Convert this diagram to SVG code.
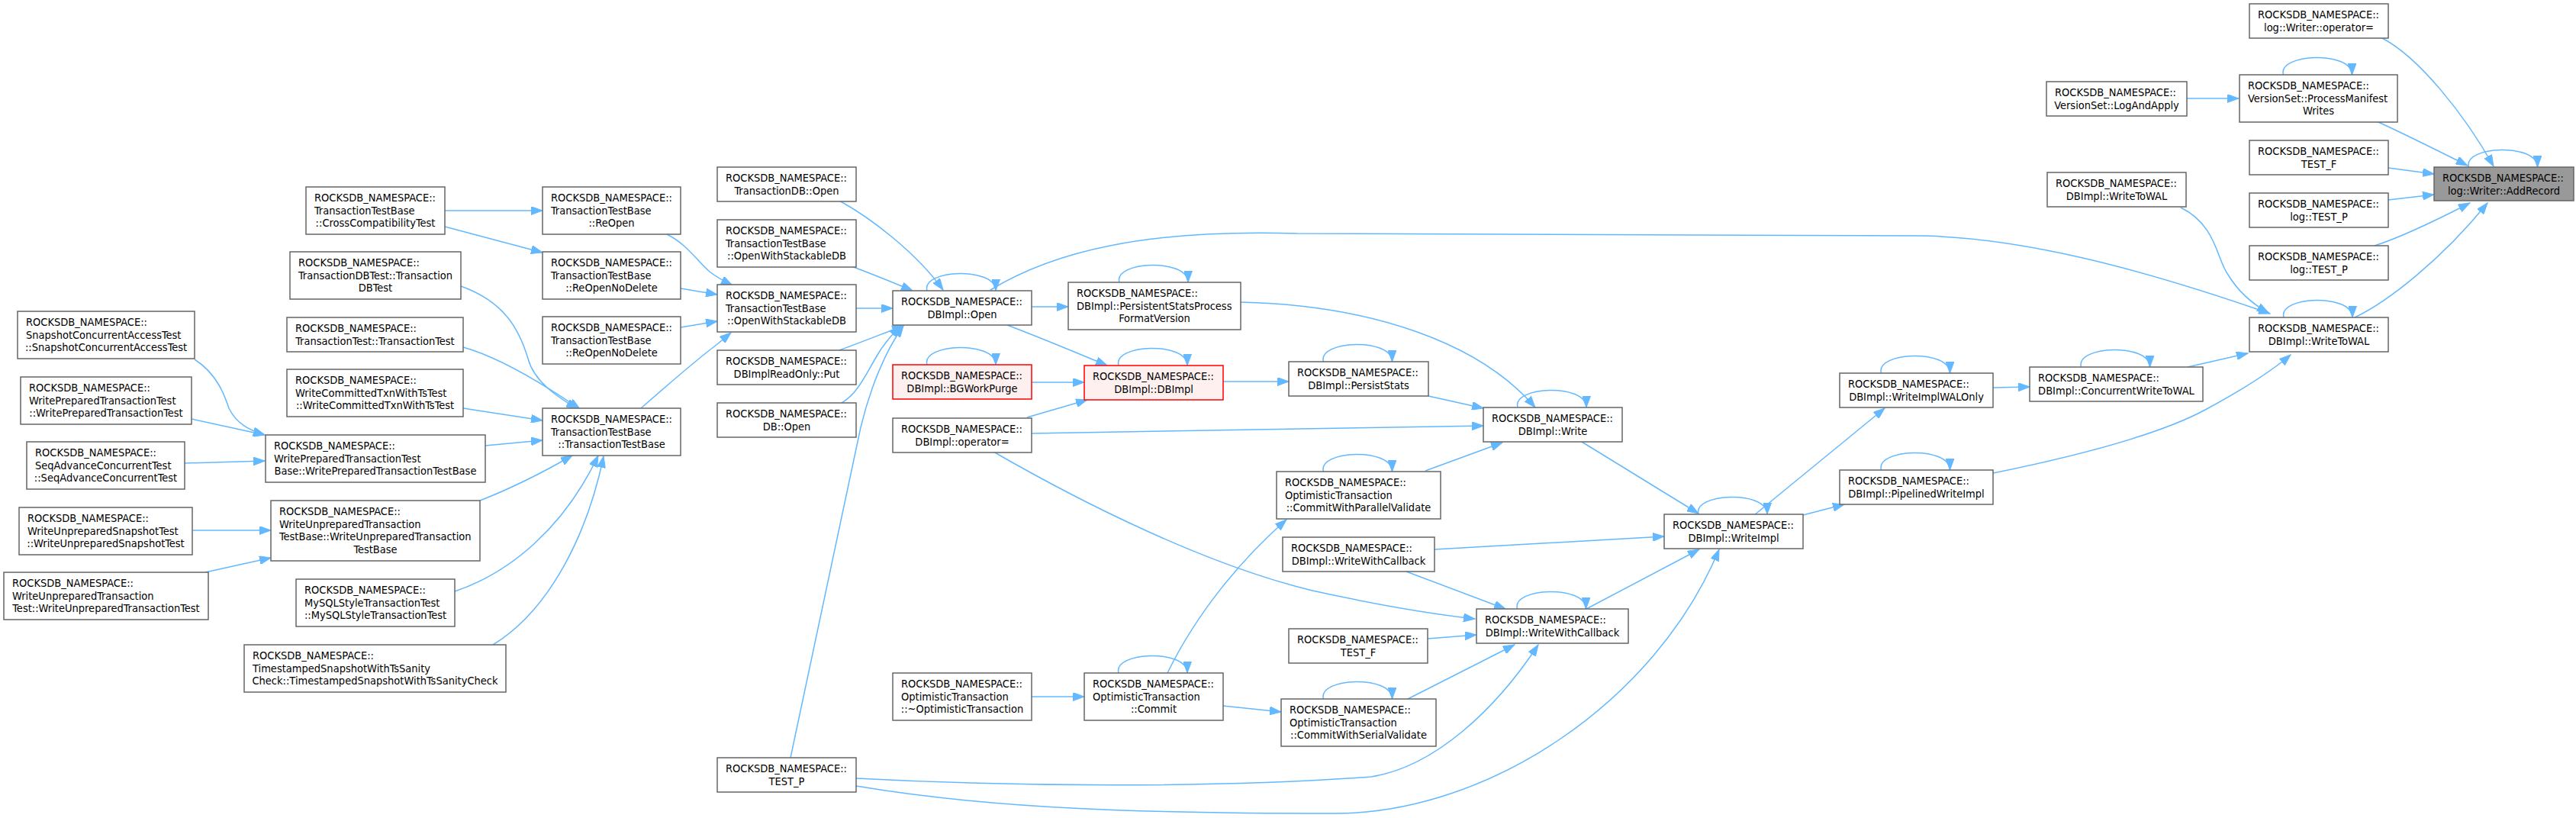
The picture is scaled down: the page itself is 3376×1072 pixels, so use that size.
<svg xmlns="http://www.w3.org/2000/svg" width="3376" height="1072" viewBox="0 0 3376 1072">
<defs>
<marker id="a" markerWidth="16" markerHeight="11" refX="15" refY="5.5" orient="auto" markerUnits="userSpaceOnUse"><path d="M0,0 L15,5.5 L0,11 z" fill="#63b8ff" stroke="#63b8ff" stroke-width="1"/></marker>
<style>
rect{fill:#ffffff;stroke:#666666;stroke-width:1.5}
.red rect{fill:#fff0f0;stroke:#ff0000}
.root rect{fill:#999999}
text{font-family:"DejaVu Sans Condensed","DejaVu Sans",sans-serif;font-stretch:condensed;font-size:14.5px;fill:#000000}
text.c{text-anchor:middle}
#edges path{fill:none;stroke:#63b8ff;stroke-width:1.5;marker-end:url(#a)}
</style>
</defs>
<rect x="0" y="0" width="3376" height="1072" style="fill:#ffffff;stroke:none"/>
<g id="edges">
<path d="M3122,50 C3170,75 3230,150 3268,218"/>
<path d="M3117,160 C3150,175 3200,200 3234,217"/>
<path d="M3130,220 L3190,228"/>
<path d="M3130,262 L3190,255"/>
<path d="M3112,322 C3150,310 3200,285 3237,266"/>
<path d="M3086,416 C3130,395 3200,340 3260,266"/>
<path d="M3235.5,219 C3227.5,191 3325.5,187 3325.5,219"/>
<path d="M2858,272 C2905,295 2905,340 2920,360 C2935,385 2955,400 2973,410"/>
<path d="M1298,380 C1380,330 1500,300 1700,306 L2520,309 C2650,312 2800,350 2975,411"/>
<path d="M2867,481 L2946,463"/>
<path d="M2612,620 C2720,598 2830,570 2892,536 C2940,510 2975,488 3002,465"/>
<path d="M2993,416 C2985,388 3083,384 3083,416"/>
<path d="M2866,129 L2934,129"/>
<path d="M2992.5,98 C2984.5,70 3082.5,66 3082.5,98"/>
<path d="M2612,508 L2660,507"/>
<path d="M2727.5,481 C2719.5,453 2817.5,449 2817.5,481"/>
<path d="M2465.5,489 C2457.5,461 2555.5,457 2555.5,489"/>
<path d="M2299,675 L2470,535"/>
<path d="M2363,675 L2417,661"/>
<path d="M2465.5,616 C2457.5,588 2555.5,584 2555.5,616"/>
<path d="M2073,579 L2226,673"/>
<path d="M1880,720 L2181,703"/>
<path d="M2079,798 L2227,720"/>
<path d="M1122,1030 C1300,1060 1500,1066 1750,1066 C1950,1066 2170,920 2253,720"/>
<path d="M2226,674 C2218,646 2316,642 2316,674"/>
<path d="M1872,519 L1944,535"/>
<path d="M1626,396 C1800,400 1940,450 2012,534"/>
<path d="M1352,568 L1944,558"/>
<path d="M1868,617 L1969,580"/>
<path d="M1989,534 C1981,506 2079,502 2079,534"/>
<path d="M1603,500 L1689,500"/>
<path d="M1734.5,474 C1726.5,446 1824.5,442 1824.5,474"/>
<path d="M1320,426 C1370,445 1410,462 1451,479"/>
<path d="M1352,501 L1421,501"/>
<path d="M1346,547 L1425,524"/>
<path d="M1466,479 C1458,451 1556,447 1556,479"/>
<path d="M1215,478 C1207,450 1305,446 1305,478"/>
<path d="M1352,402 L1400,402"/>
<path d="M1467,370 C1459,342 1557,338 1557,370"/>
<path d="M1100,263 C1140,285 1200,330 1236,380"/>
<path d="M1116,349 C1140,358 1170,370 1196,381"/>
<path d="M1122,404 L1170,404"/>
<path d="M1100,459 C1130,448 1160,436 1184,427"/>
<path d="M1103,528 C1125,515 1135,490 1150,465 C1160,448 1170,438 1180,427"/>
<path d="M1036,993 L1128,560 C1140,510 1160,460 1184,427"/>
<path d="M1215,381 C1207,353 1305,349 1305,381"/>
<path d="M874,307 C900,320 912,340 930,356 C940,364 950,369 960,374"/>
<path d="M892,378 L940,386"/>
<path d="M892,429 L940,421"/>
<path d="M840,535 C880,500 915,470 935,455 C945,447 952,441 958,436"/>
<path d="M583,276 L711,276"/>
<path d="M583,297 L711,331"/>
<path d="M604,375 C660,395 680,430 692,470 C700,500 730,520 757,536"/>
<path d="M607,455 C650,467 700,495 760,536"/>
<path d="M607,535 L711,551"/>
<path d="M636,584 L711,577"/>
<path d="M629,656 C670,640 710,620 750,597"/>
<path d="M596,775 C670,750 740,690 784,597"/>
<path d="M646,845 C720,800 770,700 791,598"/>
<path d="M255,471 C285,490 295,520 300,535 C310,555 325,563 347,570"/>
<path d="M251,549 L347,570"/>
<path d="M242,607 L347,604"/>
<path d="M253,695 L355,695"/>
<path d="M269,750 L355,731"/>
<path d="M1843,749 L1973,798"/>
<path d="M1302,592 C1420,660 1580,740 1720,774 C1820,796 1880,805 1933,811"/>
<path d="M1871,837 L1935,832"/>
<path d="M1843,917 L1985,845"/>
<path d="M1122,1020 C1350,1032 1600,1032 1797,1018 C1880,1005 1960,930 2016,845"/>
<path d="M1988.5,798 C1980.5,770 2078.5,766 2078.5,798"/>
<path d="M1530,882 C1570,800 1630,730 1686,681"/>
<path d="M1734.5,618 C1726.5,590 1824.5,586 1824.5,618"/>
<path d="M1603,925 L1679,933"/>
<path d="M1734.5,916 C1726.5,888 1824.5,884 1824.5,916"/>
<path d="M1352,913 L1421,913"/>
<path d="M1466,882 C1458,854 1556,850 1556,882"/>
</g>
<g id="addrecord" class="root"><rect x="3190" y="219" width="183" height="44"/><text x="3201" y="238">ROCKSDB_NAMESPACE::</text><text class="c" x="3281.5" y="254.5">log::Writer::AddRecord</text></g>
<g id="logwriter_op"><rect x="2948" y="5" width="182" height="45"/><text x="2959" y="24">ROCKSDB_NAMESPACE::</text><text class="c" x="3039" y="40.5">log::Writer::operator=</text></g>
<g id="processmanifest"><rect x="2935" y="98" width="207" height="62"/><text x="2946" y="117">ROCKSDB_NAMESPACE::</text><text x="2946" y="133.5">VersionSet::ProcessManifest</text><text class="c" x="3038.5" y="150">Writes</text></g>
<g id="testf_top"><rect x="2948" y="184" width="182" height="45"/><text x="2959" y="203">ROCKSDB_NAMESPACE::</text><text class="c" x="3039" y="219.5">TEST_F</text></g>
<g id="log_testp1"><rect x="2948" y="253" width="182" height="45"/><text x="2959" y="272">ROCKSDB_NAMESPACE::</text><text class="c" x="3039" y="288.5">log::TEST_P</text></g>
<g id="log_testp2"><rect x="2948" y="322" width="182" height="45"/><text x="2959" y="341">ROCKSDB_NAMESPACE::</text><text class="c" x="3039" y="357.5">log::TEST_P</text></g>
<g id="writetowal_main"><rect x="2948" y="416" width="182" height="45"/><text x="2959" y="435">ROCKSDB_NAMESPACE::</text><text class="c" x="3039" y="451.5">DBImpl::WriteToWAL</text></g>
<g id="logandapply"><rect x="2682" y="107" width="184" height="45"/><text x="2693" y="126">ROCKSDB_NAMESPACE::</text><text class="c" x="2774" y="142.5">VersionSet::LogAndApply</text></g>
<g id="writetowal_top"><rect x="2683" y="226" width="182" height="45"/><text x="2694" y="245">ROCKSDB_NAMESPACE::</text><text class="c" x="2774" y="261.5">DBImpl::WriteToWAL</text></g>
<g id="concurrentwritetowal"><rect x="2660" y="481" width="227" height="45"/><text x="2671" y="500">ROCKSDB_NAMESPACE::</text><text class="c" x="2773.5" y="516.5">DBImpl::ConcurrentWriteToWAL</text></g>
<g id="writeimplwalonly"><rect x="2411" y="489" width="201" height="45"/><text x="2422" y="508">ROCKSDB_NAMESPACE::</text><text class="c" x="2511.5" y="524.5">DBImpl::WriteImplWALOnly</text></g>
<g id="pipelinedwriteimpl"><rect x="2411" y="616" width="201" height="45"/><text x="2422" y="635">ROCKSDB_NAMESPACE::</text><text class="c" x="2511.5" y="651.5">DBImpl::PipelinedWriteImpl</text></g>
<g id="writeimpl"><rect x="2181" y="674" width="182" height="45"/><text x="2192" y="693">ROCKSDB_NAMESPACE::</text><text class="c" x="2272" y="709.5">DBImpl::WriteImpl</text></g>
<g id="write"><rect x="1944" y="534" width="182" height="45"/><text x="1955" y="553">ROCKSDB_NAMESPACE::</text><text class="c" x="2035" y="569.5">DBImpl::Write</text></g>
<g id="writewithcallback_c"><rect x="1935" y="798" width="199" height="45"/><text x="1946" y="817">ROCKSDB_NAMESPACE::</text><text class="c" x="2034.5" y="833.5">DBImpl::WriteWithCallback</text></g>
<g id="persiststats"><rect x="1689" y="474" width="183" height="45"/><text x="1700" y="493">ROCKSDB_NAMESPACE::</text><text class="c" x="1780.5" y="509.5">DBImpl::PersistStats</text></g>
<g id="commitparallel"><rect x="1673" y="618" width="215" height="62"/><text x="1684" y="637">ROCKSDB_NAMESPACE::</text><text x="1684" y="653.5">OptimisticTransaction</text><text class="c" x="1780.5" y="670">::CommitWithParallelValidate</text></g>
<g id="writewithcallback_l"><rect x="1681" y="704" width="199" height="45"/><text x="1692" y="723">ROCKSDB_NAMESPACE::</text><text class="c" x="1780.5" y="739.5">DBImpl::WriteWithCallback</text></g>
<g id="testf_mid"><rect x="1689" y="824" width="182" height="45"/><text x="1700" y="843">ROCKSDB_NAMESPACE::</text><text class="c" x="1780" y="859.5">TEST_F</text></g>
<g id="commitserial"><rect x="1679" y="916" width="203" height="62"/><text x="1690" y="935">ROCKSDB_NAMESPACE::</text><text x="1690" y="951.5">OptimisticTransaction</text><text class="c" x="1780.5" y="968">::CommitWithSerialValidate</text></g>
<g id="persistentstatsfmt"><rect x="1400" y="370" width="226" height="62"/><text x="1411" y="389">ROCKSDB_NAMESPACE::</text><text x="1411" y="405.5">DBImpl::PersistentStatsProcess</text><text class="c" x="1513" y="422">FormatVersion</text></g>
<g id="dbimpl_ctor" class="red"><rect x="1421" y="479" width="182" height="45"/><text x="1432" y="498">ROCKSDB_NAMESPACE::</text><text class="c" x="1512" y="514.5">DBImpl::DBImpl</text></g>
<g id="opt_commit"><rect x="1421" y="882" width="182" height="62"/><text x="1432" y="901">ROCKSDB_NAMESPACE::</text><text x="1432" y="917.5">OptimisticTransaction</text><text class="c" x="1512" y="934">::Commit</text></g>
<g id="dbimpl_open"><rect x="1170" y="381" width="182" height="45"/><text x="1181" y="400">ROCKSDB_NAMESPACE::</text><text class="c" x="1261" y="416.5">DBImpl::Open</text></g>
<g id="bgworkpurge" class="red"><rect x="1170" y="478" width="182" height="45"/><text x="1181" y="497">ROCKSDB_NAMESPACE::</text><text class="c" x="1261" y="513.5">DBImpl::BGWorkPurge</text></g>
<g id="dbimpl_opeq"><rect x="1170" y="548" width="182" height="45"/><text x="1181" y="567">ROCKSDB_NAMESPACE::</text><text class="c" x="1261" y="583.5">DBImpl::operator=</text></g>
<g id="opt_dtor"><rect x="1170" y="882" width="182" height="62"/><text x="1181" y="901">ROCKSDB_NAMESPACE::</text><text x="1181" y="917.5">OptimisticTransaction</text><text class="c" x="1261" y="934">::~OptimisticTransaction</text></g>
<g id="txndb_open"><rect x="940" y="219" width="182" height="45"/><text x="951" y="238">ROCKSDB_NAMESPACE::</text><text class="c" x="1031" y="254.5">TransactionDB::Open</text></g>
<g id="openstackable1"><rect x="940" y="288" width="182" height="62"/><text x="951" y="307">ROCKSDB_NAMESPACE::</text><text x="951" y="323.5">TransactionTestBase</text><text class="c" x="1031" y="340">::OpenWithStackableDB</text></g>
<g id="openstackable2"><rect x="940" y="373" width="182" height="62"/><text x="951" y="392">ROCKSDB_NAMESPACE::</text><text x="951" y="408.5">TransactionTestBase</text><text class="c" x="1031" y="425">::OpenWithStackableDB</text></g>
<g id="readonly_put"><rect x="940" y="459" width="182" height="45"/><text x="951" y="478">ROCKSDB_NAMESPACE::</text><text class="c" x="1031" y="494.5">DBImplReadOnly::Put</text></g>
<g id="db_open"><rect x="940" y="528" width="182" height="45"/><text x="951" y="547">ROCKSDB_NAMESPACE::</text><text class="c" x="1031" y="563.5">DB::Open</text></g>
<g id="test_p"><rect x="940" y="993" width="182" height="45"/><text x="951" y="1012">ROCKSDB_NAMESPACE::</text><text class="c" x="1031" y="1028.5">TEST_P</text></g>
<g id="reopen"><rect x="711" y="245" width="181" height="62"/><text x="722" y="264">ROCKSDB_NAMESPACE::</text><text x="722" y="280.5">TransactionTestBase</text><text class="c" x="801.5" y="297">::ReOpen</text></g>
<g id="reopennodelete1"><rect x="711" y="330" width="181" height="62"/><text x="722" y="349">ROCKSDB_NAMESPACE::</text><text x="722" y="365.5">TransactionTestBase</text><text class="c" x="801.5" y="382">::ReOpenNoDelete</text></g>
<g id="reopennodelete2"><rect x="711" y="415" width="181" height="62"/><text x="722" y="434">ROCKSDB_NAMESPACE::</text><text x="722" y="450.5">TransactionTestBase</text><text class="c" x="801.5" y="467">::ReOpenNoDelete</text></g>
<g id="txntestbase"><rect x="711" y="535" width="181" height="62"/><text x="722" y="554">ROCKSDB_NAMESPACE::</text><text x="722" y="570.5">TransactionTestBase</text><text class="c" x="801.5" y="587">::TransactionTestBase</text></g>
<g id="crosscompat"><rect x="401" y="245" width="182" height="62"/><text x="412" y="264">ROCKSDB_NAMESPACE::</text><text x="412" y="280.5">TransactionTestBase</text><text class="c" x="492" y="297">::CrossCompatibilityTest</text></g>
<g id="txndbtest"><rect x="380" y="330" width="224" height="62"/><text x="391" y="349">ROCKSDB_NAMESPACE::</text><text x="391" y="365.5">TransactionDBTest::Transaction</text><text class="c" x="492" y="382">DBTest</text></g>
<g id="txntest"><rect x="376" y="416" width="231" height="45"/><text x="387" y="435">ROCKSDB_NAMESPACE::</text><text class="c" x="491.5" y="451.5">TransactionTest::TransactionTest</text></g>
<g id="wcttstest"><rect x="376" y="484" width="231" height="62"/><text x="387" y="503">ROCKSDB_NAMESPACE::</text><text x="387" y="519.5">WriteCommittedTxnWithTsTest</text><text class="c" x="491.5" y="536">::WriteCommittedTxnWithTsTest</text></g>
<g id="wptxntestbase"><rect x="348" y="570" width="288" height="62"/><text x="359" y="589">ROCKSDB_NAMESPACE::</text><text x="359" y="605.5">WritePreparedTransactionTest</text><text class="c" x="492" y="622">Base::WritePreparedTransactionTestBase</text></g>
<g id="wutxntestbase"><rect x="355" y="656" width="274" height="79"/><text x="366" y="675">ROCKSDB_NAMESPACE::</text><text x="366" y="691.5">WriteUnpreparedTransaction</text><text x="366" y="708">TestBase::WriteUnpreparedTransaction</text><text class="c" x="492" y="724.5">TestBase</text></g>
<g id="mysqltest"><rect x="388" y="759" width="208" height="62"/><text x="399" y="778">ROCKSDB_NAMESPACE::</text><text x="399" y="794.5">MySQLStyleTransactionTest</text><text class="c" x="492" y="811">::MySQLStyleTransactionTest</text></g>
<g id="tssanity"><rect x="320" y="845" width="343" height="62"/><text x="331" y="864">ROCKSDB_NAMESPACE::</text><text x="331" y="880.5">TimestampedSnapshotWithTsSanity</text><text class="c" x="491.5" y="897">Check::TimestampedSnapshotWithTsSanityCheck</text></g>
<g id="snapshotconcurrent"><rect x="23" y="408" width="232" height="62"/><text x="34" y="427">ROCKSDB_NAMESPACE::</text><text x="34" y="443.5">SnapshotConcurrentAccessTest</text><text class="c" x="139" y="460">::SnapshotConcurrentAccessTest</text></g>
<g id="wptxntest"><rect x="27" y="494" width="224" height="62"/><text x="38" y="513">ROCKSDB_NAMESPACE::</text><text x="38" y="529.5">WritePreparedTransactionTest</text><text class="c" x="139" y="546">::WritePreparedTransactionTest</text></g>
<g id="seqadvance"><rect x="35" y="579" width="207" height="62"/><text x="46" y="598">ROCKSDB_NAMESPACE::</text><text x="46" y="614.5">SeqAdvanceConcurrentTest</text><text class="c" x="138.5" y="631">::SeqAdvanceConcurrentTest</text></g>
<g id="wusnapshot"><rect x="25" y="665" width="227" height="62"/><text x="36" y="684">ROCKSDB_NAMESPACE::</text><text x="36" y="700.5">WriteUnpreparedSnapshotTest</text><text class="c" x="138.5" y="717">::WriteUnpreparedSnapshotTest</text></g>
<g id="wutxntest"><rect x="5" y="750" width="268" height="62"/><text x="16" y="769">ROCKSDB_NAMESPACE::</text><text x="16" y="785.5">WriteUnpreparedTransaction</text><text class="c" x="139" y="802">Test::WriteUnpreparedTransactionTest</text></g>
</svg>
